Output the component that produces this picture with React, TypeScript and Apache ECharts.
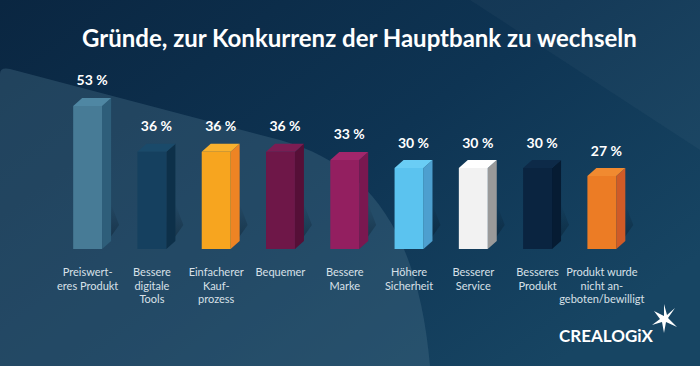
import React, { useEffect, useRef } from "react";
import * as echarts from "echarts";

const titleText = "Gründe, zur Konkurrenz der Hauptbank zu wechseln";
const categories = [
  "Preiswert-\neres Produkt",
  "Bessere\ndigitale\nTools",
  "Einfacherer\nKauf-\nprozess",
  "Bequemer",
  "Bessere\nMarke",
  "Höhere\nSicherheit",
  "Besserer\nService",
  "Besseres\nProdukt",
  "Produkt wurde\nnicht an-\ngeboten/bewilligt",
];
const values = [53, 36, 36, 36, 33, 30, 30, 30, 27];
const logoText = "CREALOGiX";

const frontColors = ["#477b96", "#15405f", "#f7a51f", "#6e1748", "#931f60", "#5bc3ef", "#f2f2f2", "#0a2440", "#ec7c25"];
const sideColors = ["#2e5e7a", "#0d3049", "#ee8424", "#560f37", "#7a1850", "#4d9fcf", "#9a9a9a", "#061c33", "#d05b27"];
const topColors = ["#4f87a3", "#1a4a6a", "#f9b12e", "#7b1d53", "#a2266b", "#6acdf5", "#ffffff", "#0d2a48", "#f18a30"];

echarts.graphic.registerShape(
  "bgshape",
  echarts.graphic.extendPath("M0,74 Q0,67 10,69 L280,140 C370,165 418,232 430,366 L0,366 Z", {})
);

export default function App() {
  const ref = useRef<HTMLDivElement>(null);
  useEffect(() => {
    if (!ref.current) return;
    const chart = echarts.init(ref.current, null, { renderer: "svg" });
    const option: any = {
      animation: false,
      backgroundColor: {
        type: "linear",
        x: 0,
        y: 0,
        x2: 1,
        y2: 0.7,
        colorStops: [
          { offset: 0, color: "#0a2641" },
          { offset: 0.55, color: "#0e3453" },
          { offset: 1, color: "#174563" },
        ],
      },
      title: {
        text: titleText,
        left: 77,
        top: 20,
        textStyle: { color: "#ffffff", fontFamily: "Lato", fontWeight: "bold", fontSize: 24 },
      },
      graphic: [
        {
          type: "polygon",
          z: -10,
          silent: true,
          shape: { points: [[470, 0], [700, 0], [700, 150]] },
          style: { fill: "rgba(255,255,255,0.03)" },
        },
        {
          type: "bgshape",
          z: -10,
          silent: true,
          x: 0,
          y: 0,
          style: { fill: "rgba(70,110,135,0.38)" },
        },
        {
          type: "text",
          z: 10,
          x: 559,
          y: 327,
          style: { text: logoText, fill: "#ffffff", font: "bold 17px Lato" },
        },
        {
          type: "polygon",
          z: 10,
          shape: {
            points: [
              [675, 308], [668, 318], [677, 327], [666, 322], [664, 333],
              [662, 322], [652, 325], [660, 319], [654, 311], [664, 316], [664, 304], [667, 315],
            ],
          },
          style: { fill: "#ffffff" },
        },
      ],
      grid: { left: 55.5, right: 66, top: 87, bottom: 117 },
      xAxis: {
        type: "category",
        data: categories,
        axisLine: { show: false },
        axisTick: { show: false },
        axisLabel: {
          interval: 0,
          margin: 16,
          color: "#d8e0e8",
          fontFamily: "Lato",
          fontSize: 11,
          lineHeight: 13.5,
        },
      },
      yAxis: { type: "value", min: 0, max: 60, show: false, splitLine: { show: false } },
      series: [
        {
          type: "custom",
          data: values.map((v, i) => [i, v]),
          encode: { x: 0, y: 1 },
          renderItem: (params: any, api: any) => {
            const idx = params.dataIndex;
            const v = api.value(1);
            const top = api.coord([idx, v]);
            const base = api.coord([idx, 0]);
            const band = api.size([1, 0])[0];
            const w = band * 0.45;
            const dx = band * 0.14;
            const dy = 8;
            const x0 = top[0] - w / 2;
            const xr = x0 + w;
            const yt = top[1];
            const yb = base[1];
            return {
              type: "group",
              children: [
                {
                  type: "polygon",
                  shape: { points: [[xr, yb], [xr + dx + 8, yb - 24], [xr + dx, yb - 45], [xr, yb - 45]] },
                  style: {
                    fill: {
                      type: "linear",
                      x: 0, y: 1, x2: 0, y2: 0,
                      colorStops: [
                        { offset: 0, color: "rgba(0,10,20,0.4)" },
                        { offset: 1, color: "rgba(0,10,20,0)" },
                      ],
                    },
                  },
                },
                {
                  type: "polygon",
                  shape: { points: [[xr, yt], [xr + dx, yt - dy], [xr + dx, yb - dy], [xr, yb]] },
                  style: { fill: sideColors[idx] },
                },
                {
                  type: "polygon",
                  shape: { points: [[x0, yt], [x0 + dx, yt - dy], [xr + dx, yt - dy], [xr, yt]] },
                  style: { fill: topColors[idx] },
                },
                {
                  type: "rect",
                  shape: { x: x0, y: yt, width: w, height: yb - yt },
                  style: { fill: frontColors[idx] },
                },
                {
                  type: "text",
                  x: x0 + (w + dx) / 2,
                  y: yt - dy - 18,
                  style: {
                    text: v + " %",
                    fill: "#ffffff",
                    font: "bold 14px Lato",
                    align: "center",
                    verticalAlign: "middle",
                  },
                },
              ],
            };
          },
        },
      ],
    };
    chart.setOption(option);
    return () => chart.dispose();
  }, []);
  return <div ref={ref} style={{ position: "fixed", left: 0, top: 0, width: 700, height: 366 }} />;
}
